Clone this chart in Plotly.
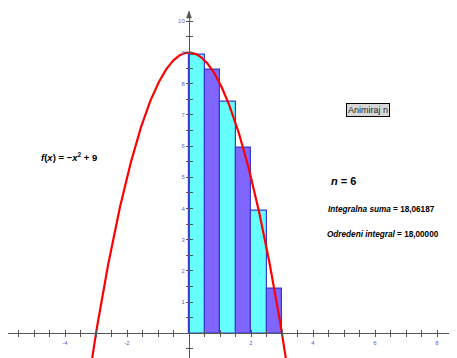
import numpy as np
import plotly.graph_objects as go

# ---- data ----
a, b, n = 0.0, 3.0, 6
bar_left = [0.0, 0.5, 1.0, 1.5, 2.0, 2.5]
bar_heights = [8.9375, 8.4375, 7.4375, 5.9375, 3.9375, 1.4375]
bar_colors = ["#66ffff", "#7f66ff", "#66ffff", "#7f66ff", "#66ffff", "#7f66ff"]
x_tick_vals = list(np.arange(-5.5, 8.01, 0.5))
x_label_vals = [-4, -2, 2, 4, 6, 8]
y_tick_vals = list(np.arange(-0.5, 10.01, 0.5))
y_label_vals = [1, 2, 3, 4, 5, 6, 7, 8, 9, 10]
integral_sum = "18,06187"
definite_integral = "18,00000"

# page is offset by the default 8px body margin
OFF = 8
PW, PH = 457, 358
W, H = PW - OFF, PH - OFF
x0px, xscale = 189.0, 31.0      # page px of x=0, px per unit
y0px, yscale = 333.3, 31.2      # page px of y=0, px per unit

def px(p):  # page x pixel -> paper x
    return (p - OFF) / W

def py(p):  # page y pixel -> paper y
    return 1 - (p - OFF) / H

xr = [(OFF - x0px) / xscale, (PW - x0px) / xscale]
ytop_px = 11.7
yr = [-(PH - y0px) / yscale, (y0px - ytop_px) / yscale]
xdom = [0, 1]
ydom = [0, py(ytop_px)]

fig = go.Figure()

width = (b - a) / n
fig.add_trace(go.Bar(
    x=[l + width / 2 for l in bar_left], y=bar_heights, width=width,
    marker=dict(color=bar_colors, line=dict(color="#3a3ad0", width=1.2)),
    hoverinfo="skip", showlegend=False,
))

xs = np.linspace(-3.4, 3.4, 400)
fig.add_trace(go.Scatter(x=xs, y=-xs**2 + 9, mode="lines",
                         line=dict(color="#ff0000", width=2.2),
                         showlegend=False, hoverinfo="skip"))

x_text = [str(int(v)) if v in x_label_vals else " " for v in x_tick_vals]
y_text = [str(int(v)) if v in y_label_vals else " " for v in y_tick_vals]

xpos = py(y0px)
ypos = px(x0px)
tickfont = dict(size=6, color="#6a5acd", family="Liberation Sans")

common = dict(showgrid=False, zeroline=False, automargin=False, fixedrange=True)
fig.update_layout(
    width=W, height=H, margin=dict(l=0, r=0, t=0, b=0, pad=0),
    paper_bgcolor="white", plot_bgcolor="white",
    bargap=0,
    xaxis=dict(range=xr, domain=xdom, anchor="free", position=xpos,
               showline=True, linecolor="#555555",
               linewidth=1, ticks="outside", ticklen=3, tickcolor="#555555",
               tickvals=x_tick_vals, ticktext=x_text, tickfont=tickfont, **common),
    xaxis2=dict(range=xr, domain=xdom, anchor="free", position=xpos, overlaying="x",
                showline=False, ticks="inside",
                ticklen=3, tickcolor="#555555", tickvals=x_tick_vals,
                showticklabels=False, **common),
    yaxis=dict(range=yr, domain=ydom, anchor="free", position=ypos,
               showline=True, linecolor="#555555",
               linewidth=1, ticks="outside", ticklen=3, tickcolor="#555555",
               tickvals=y_tick_vals, ticktext=y_text, tickfont=tickfont, **common),
    yaxis2=dict(range=yr, domain=ydom, anchor="free", position=ypos, overlaying="y",
                showline=False, ticks="inside",
                ticklen=3, tickcolor="#555555", tickvals=y_tick_vals,
                showticklabels=False, **common),
)
# invisible trace to activate the secondary (inside-tick) axes
fig.add_trace(go.Scatter(x=[0], y=[0], xaxis="x2", yaxis="y2", mode="markers",
                         marker=dict(opacity=0), showlegend=False, hoverinfo="skip"))

# arrowhead at top of y axis
fig.add_shape(type="path", xref="paper", yref="paper",
              path="M %f %f L %f %f L %f %f Z" % (
                  px(x0px - 2.5), py(18), px(x0px), py(11),
                  px(x0px + 2.5), py(18)),
              fillcolor="#555555", line=dict(color="#555555", width=0.5))

font = "Liberation Sans, Arial, sans-serif"
fig.add_annotation(x=px(39), y=py(157), xref="paper", yref="paper",
                   xanchor="left", yanchor="middle", showarrow=False,
                   text="<b><i>f</i>(<i>x</i>) = −<i>x</i><sup>2</sup> + 9</b>",
                   font=dict(family=font, size=9.5, color="black"))
fig.add_annotation(x=px(329), y=py(181), xref="paper", yref="paper",
                   xanchor="left", yanchor="middle", showarrow=False,
                   text="<b><i>n</i> = %d</b>" % n,
                   font=dict(family=font, size=11, color="black"))
fig.add_annotation(x=px(326), y=py(209), xref="paper", yref="paper",
                   xanchor="left", yanchor="middle", showarrow=False,
                   text="<b><i>Integralna suma</i> = %s</b>" % integral_sum,
                   font=dict(family=font, size=8.2, color="black"))
fig.add_annotation(x=px(325), y=py(234), xref="paper", yref="paper",
                   xanchor="left", yanchor="middle", showarrow=False,
                   text="<b><i>Odredeni integral</i> = %s</b>" % definite_integral,
                   font=dict(family=font, size=8.2, color="black"))
fig.add_annotation(x=px(367.5), y=py(110), xref="paper", yref="paper",
                   xanchor="center", yanchor="middle", showarrow=False,
                   text="Animiraj n", bgcolor="#d8d8d8", bordercolor="#000000",
                   borderwidth=1, borderpad=1,
                   font=dict(family=font, size=9, color="#222222"))

fig.write_html("out.html")
